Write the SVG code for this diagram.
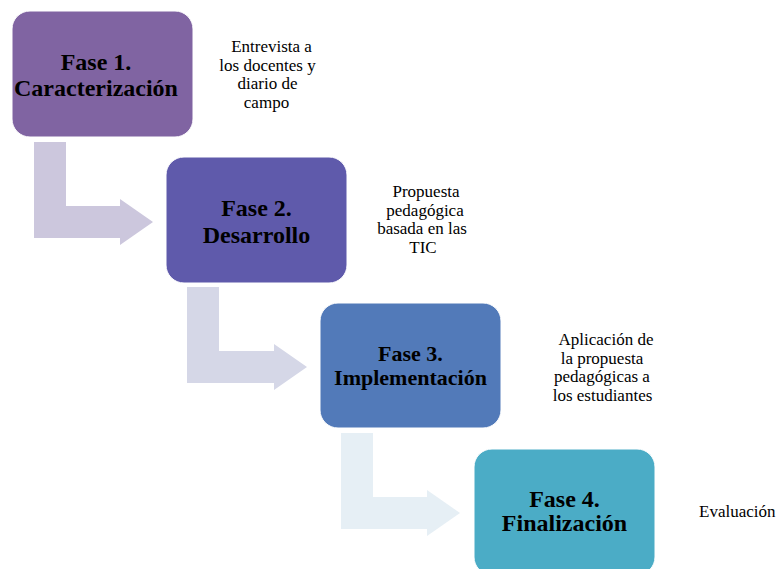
<svg xmlns="http://www.w3.org/2000/svg" width="783" height="569" viewBox="0 0 783 569">
<style>
.box{stroke:#ffffff;stroke-width:1}
text{font-family:'Liberation Serif','Times New Roman','DejaVu Serif',serif;fill:#000}
.t{font-weight:bold;text-anchor:middle}
.s{font-size:17px;text-anchor:middle}
</style>
<rect width="783" height="569" fill="#ffffff"/>
<g id="connectors">
<path d="M34,142 H66 V206 H120 V199 L153,222 L120,245 V238 H34 Z" fill="#CCC7DD"/>
<path d="M187,287 H219 V351 H274 V344 L307,367 L274,390 V383 H187 Z" fill="#D5D7E7"/>
<path d="M341,433 H373 V497 H427 V490 L460,513 L427,536 V529 H341 Z" fill="#E6EFF5"/>
</g>
<g id="fase1">
<rect class="box" x="12" y="11" width="181" height="126" rx="18" fill="#8064A2"/>
<text class="t" x="96" y="70" font-size="24">Fase 1.</text>
<text class="t" x="96" y="96" font-size="24">Caracterización</text>
</g>
<g id="fase2">
<rect class="box" x="166" y="157" width="181" height="126" rx="18" fill="#5F5AAB"/>
<text class="t" x="256.5" y="216" font-size="24">Fase 2.</text>
<text class="t" x="256.5" y="243" font-size="24">Desarrollo</text>
</g>
<g id="fase3">
<rect class="box" x="320" y="303" width="181" height="125" rx="18" fill="#527AB9"/>
<text class="t" x="410.5" y="361" font-size="22">Fase 3.</text>
<text class="t" x="410.5" y="385" font-size="22">Implementación</text>
</g>
<g id="fase4">
<rect class="box" x="474" y="449" width="181" height="126" rx="18" fill="#4BACC6"/>
<text class="t" x="564.5" y="507" font-size="24">Fase 4.</text>
<text class="t" x="564.5" y="531" font-size="24">Finalización</text>
</g>
<g id="desc1">
<text class="s" x="271.5" y="52">Entrevista a</text>
<text class="s" x="267.5" y="71">los docentes y</text>
<text class="s" x="267.5" y="89">diario de</text>
<text class="s" x="266.5" y="108">campo</text>
</g>
<g id="desc2">
<text class="s" x="426" y="197">Propuesta</text>
<text class="s" x="425" y="216">pedagógica</text>
<text class="s" x="422" y="234">basada en las</text>
<text class="s" x="423" y="253">TIC</text>
</g>
<g id="desc3">
<text class="s" x="606" y="345">Aplicación de</text>
<text class="s" x="602" y="364">la propuesta</text>
<text class="s" x="602" y="382">pedagógicas a</text>
<text class="s" x="602.5" y="401">los estudiantes</text>
</g>
<g id="desc4">
<text x="699" y="517" font-size="17">Evaluación</text>
</g>
</svg>
